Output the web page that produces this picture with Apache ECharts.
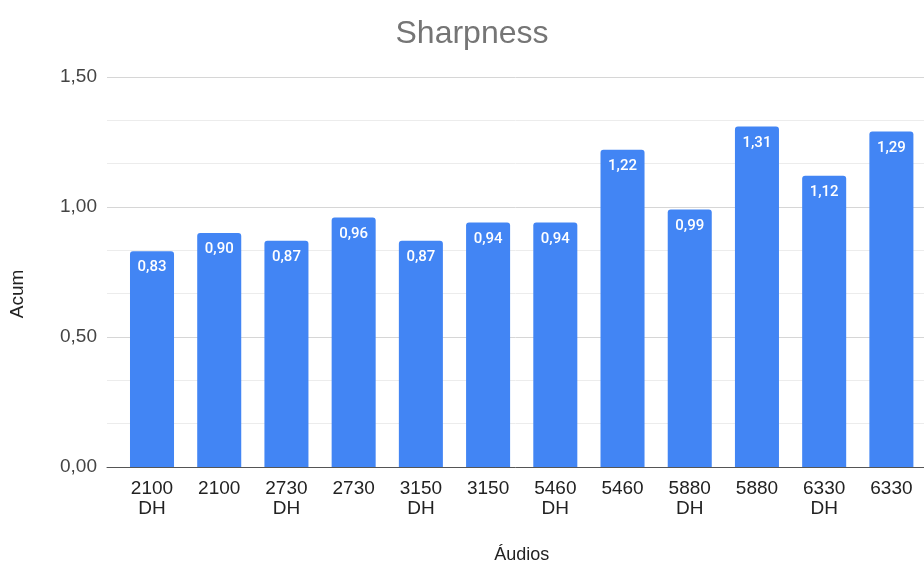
<!DOCTYPE html>
<html>
<head>
<meta charset="utf-8">
<style>
  html, body { margin: 0; padding: 0; background: #fff; }
  #chart { width: 924px; height: 563px; }
</style>
<script src="https://cdn.jsdelivr.net/npm/echarts@6/dist/echarts.min.js"></script>
</head>
<body>
<div id="chart"></div>
<script>
// dados
const audios = ['2100\nDH', '2100', '2730\nDH', '2730', '3150\nDH', '3150',
  '5460\nDH', '5460', '5880\nDH', '5880', '6330\nDH', '6330'];
const acum = [0.83, 0.90, 0.87, 0.96, 0.87, 0.94, 0.94, 1.22, 0.99, 1.31, 1.12, 1.29];
const yTicks = [0, 0.5, 1.0, 1.5];

const fmt = v => v.toFixed(2).replace('.', ',');
const font = 'Liberation Sans, Arial, sans-serif';

const chart = echarts.init(document.getElementById('chart'));
const option = {
  animation: false,
  title: {
    text: 'Sharpness',
    left: 467,
    top: 13,
    textAlign: 'center',
    textStyle: { fontFamily: font, fontSize: 32, fontWeight: 'normal', color: '#757575' }
  },
  grid: [
    // grade de fundo (linhas e eixo y)
    { left: 107, right: 0, top: 77, bottom: 96, outerBoundsMode: 'none' },
    // barras
    { left: 118.4, right: -1, top: 77, bottom: 96, outerBoundsMode: 'none' }
  ],
  xAxis: [
    {
      gridIndex: 0,
      type: 'value',
      min: 0,
      max: 1,
      axisLine: { show: true, onZero: false, lineStyle: { color: '#555', width: 1 } },
      axisTick: { show: false },
      axisLabel: { show: false },
      splitLine: { show: false }
    },
    {
      gridIndex: 1,
      type: 'category',
      data: audios,
      name: 'Áudios',
      nameLocation: 'middle',
      nameGap: 79,
      nameTextStyle: { fontFamily: font, fontSize: 18, color: '#222' },
      axisLine: { show: false },
      axisTick: { show: false },
      axisLabel: {
        interval: 0,
        margin: 12,
        fontFamily: font,
        fontSize: 19,
        lineHeight: 20,
        color: '#222'
      }
    }
  ],
  yAxis: [
    {
      gridIndex: 0,
      type: 'value',
      min: 0,
      max: 1.5,
      interval: 0.5,
      name: 'Acum',
      nameLocation: 'middle',
      nameGap: 80,
      nameTextStyle: { fontFamily: font, fontSize: 19, color: '#222', padding: [0, 44, 0, 0] },
      axisLine: { show: false },
      axisTick: { show: false },
      axisLabel: {
        margin: 10,
        fontFamily: font,
        fontSize: 19,
        color: '#444',
        formatter: v => yTicks.includes(v) ? fmt(v) : ''
      },
      splitLine: { lineStyle: { color: '#d6d6d6', width: 1 } },
      minorTick: { show: false, splitNumber: 3 },
      minorSplitLine: { show: true, lineStyle: { color: '#ececec', width: 1 } }
    },
    {
      gridIndex: 1,
      type: 'value',
      min: 0,
      max: 1.5,
      show: false,
      splitLine: { show: false }
    }
  ],
  series: [
    {
      type: 'bar',
      xAxisIndex: 1,
      yAxisIndex: 1,
      data: acum,
      barWidth: '65.5%',
      itemStyle: { color: '#4285f4', borderRadius: [3, 3, 0, 0] },
      label: {
        show: true,
        position: 'insideTop',
        distance: 9,
        fontFamily: 'Roboto',
        fontSize: 15,
        fontWeight: 500,
        color: '#fff',
        formatter: p => fmt(p.value)
      }
    }
  ]
};
chart.setOption(option);
</script>
</body>
</html>
